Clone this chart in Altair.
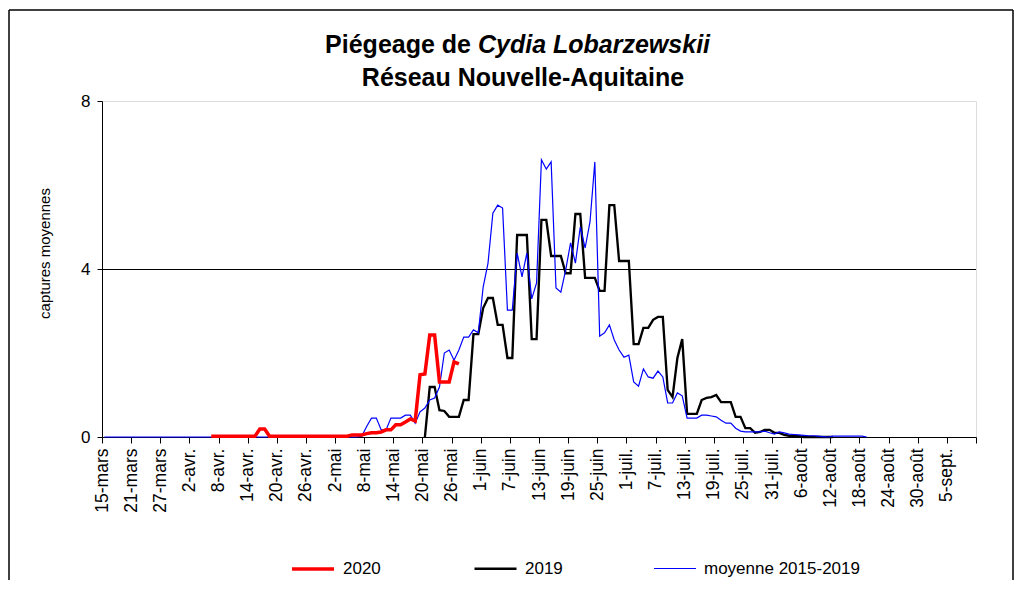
import altair as alt
import pandas as pd

# ---------------- data ----------------
SERIES = ["2020", "2019", "moyenne 2015-2019"]
COLORS = ["#ff0000", "#000000", "#0000ff"]
WIDTHS = [3.5, 1.2, 1.3]

SEASON_START = "2020-03-15"   # first day of the x axis (15-mars)
SEASON_DAYS = 180             # axis runs to 11-sept.

# 2020 : daily values from 6-avr.
Y2020_START = "2020-04-06"
Y2020 = [0.02, 0.02, 0.02, 0.02, 0.02, 0.02, 0.02, 0.02, 0.02, 0.02,
         0.19, 0.19,
         0.02, 0.02, 0.02, 0.02, 0.02, 0.02, 0.02, 0.02, 0.02, 0.02,
         0.02, 0.02, 0.02, 0.02, 0.02, 0.02, 0.02,
         0.05, 0.05, 0.05, 0.08, 0.10, 0.10, 0.12, 0.17, 0.17, 0.29,
         0.29, 0.36, 0.43, 0.38, 1.48, 1.50, 2.43, 2.43, 1.31, 1.31,
         1.31, 1.79, 1.74]

# 2019 : daily values from 20-mai
Y2019_START = "2020-05-20"
Y2019 = [0.00, 1.19, 1.19, 0.64, 0.62, 0.48, 0.48, 0.48, 0.88, 0.88,
         2.45, 2.45, 3.07, 3.31, 3.31, 2.67, 2.67, 1.88, 1.88, 4.81,
         4.81, 4.81, 2.33, 2.33, 5.17, 5.17, 4.31, 4.31, 4.31, 3.90,
         3.90, 5.31, 5.31, 3.79, 3.79, 3.79, 3.48, 3.48, 5.52, 5.52,
         4.19, 4.19, 4.19, 2.21, 2.21, 2.60, 2.60, 2.79, 2.86, 2.86,
         1.12, 0.95, 1.88, 2.33, 0.55, 0.55, 0.55, 0.88, 0.93, 0.95,
         1.00, 0.83, 0.83, 0.83, 0.48, 0.48, 0.21, 0.21, 0.10, 0.12,
         0.17, 0.17, 0.10, 0.10, 0.05, 0.03, 0.02, 0.02, 0.00, 0.00,
         0.00, 0.00, 0.00, 0.00, 0.00]

# moyenne 2015-2019 : daily values from 15-mars
MOY_START = "2020-03-15"
MOY = [0.00] * 41 + [0.03, 0.03, 0.03, 0.03] + [0.00] * 8 + [
       0.02, 0.25, 0.45, 0.45, 0.17, 0.17, 0.45, 0.45, 0.45, 0.52,
       0.52, 0.33, 0.60, 0.69, 0.88, 0.93, 1.19, 2.00, 2.07, 1.83,
       2.07, 2.38, 2.38, 2.55, 2.48, 3.57, 4.14, 5.33, 5.52, 5.45,
       3.02, 3.02, 4.38, 3.81, 4.38, 3.29, 3.67, 6.60, 6.38, 6.55,
       3.55, 3.45, 3.98, 4.62, 4.14, 5.00, 4.50, 5.12, 6.55, 2.40,
       2.48, 2.67, 2.31, 2.07, 1.90, 1.95, 1.31, 1.21, 1.62, 1.43,
       1.40, 1.57, 1.43, 0.81, 0.81, 1.05, 0.98, 0.45, 0.45, 0.45,
       0.52, 0.52, 0.50, 0.48, 0.40, 0.33, 0.33, 0.21, 0.14, 0.12,
       0.12, 0.12, 0.12, 0.14, 0.10, 0.07, 0.12, 0.10, 0.07, 0.06,
       0.05, 0.04, 0.03, 0.03, 0.02, 0.01, 0.00, 0.02, 0.02, 0.02,
       0.02, 0.02, 0.02, 0.02, 0.00]

TICK_DAYS = list(range(0, SEASON_DAYS + 1, 6))
TICK_LABELS = ["15-mars", "21-mars", "27-mars", "2-avr.", "8-avr.", "14-avr.",
               "20-avr.", "26-avr.", "2-mai", "8-mai", "14-mai", "20-mai",
               "26-mai", "1-juin", "7-juin", "13-juin", "19-juin", "25-juin",
               "1-juil.", "7-juil.", "13-juil.", "19-juil.", "25-juil.",
               "31-juil.", "6-août", "12-août", "18-août", "24-août",
               "30-août", "5-sept.", ""]
Y_TICKS = [0, 4, 8]
GRID_VALUES = [4]

TITLE_1A = "Piégeage de"
TITLE_1B = "Cydia Lobarzewskii"
TITLE_2 = "Réseau Nouvelle-Aquitaine"
Y_TITLE = "captures moyennes"

FONT = "Liberation Sans"


# ---------------- build tables ----------------
def series_frame(name, start, values):
    dates = pd.date_range(start, periods=len(values), freq="D")
    day = (dates - pd.Timestamp(SEASON_START)).days + 0.5   # centre of the day
    return pd.DataFrame({"day": day, "value": values, "series": name})


df2020 = series_frame("2020", Y2020_START, Y2020)
df2019 = series_frame("2019", Y2019_START, Y2019)
dfmoy = series_frame("moyenne 2015-2019", MOY_START, MOY)
one = pd.DataFrame({"k": [0]})
grid_df = pd.DataFrame({"value": GRID_VALUES})

label_expr = "[" + ",".join("'" + l + "'" for l in TICK_LABELS) + "][round(datum.value / 6)]"

x_enc = alt.X(
    "day:Q",
    scale=alt.Scale(domain=[0, SEASON_DAYS], nice=False, zero=False),
    axis=alt.Axis(
        values=TICK_DAYS, labelExpr=label_expr, title=None, grid=False,
        labelAngle=270, labelAlign="right", labelBaseline="middle",
        labelFontSize=17.5, labelColor="black", labelPadding=5,
        tickSize=6, tickColor="black", domainColor="black",
        labelOverlap=False, labelFlush=False,
    ),
)
y_scale = alt.Scale(domain=[0, 8], nice=False)
y_axis = alt.Axis(
    values=Y_TICKS, title=Y_TITLE, grid=False, format="d",
    labelFontSize=17, labelColor="black", labelPadding=7,
    tickSize=5, tickColor="black", domainColor="black",
    titleFontSize=15, titleFontWeight="normal", titleColor="black",
    titlePadding=28, titleY=152, titleAlign="center", labelFlush=False,
)
y_enc = alt.Y("value:Q", scale=y_scale, axis=y_axis)

legend = alt.Legend(
    title=None, orient="none", legendX=188, legendY=445, direction="horizontal",
    symbolType="stroke", symbolSize=1764, labelFontSize=17, labelColor="black",
    labelOffset=7, columnPadding=88, labelFont=FONT,
)
color_enc = alt.Color("series:N", scale=alt.Scale(domain=SERIES, range=COLORS), legend=legend)
width_enc = alt.StrokeWidth("series:N", scale=alt.Scale(domain=SERIES, range=WIDTHS), legend=legend)


def line_layer(df):
    return alt.Chart(df).mark_line(interpolate="linear").encode(
        x=x_enc, y=y_enc, color=color_enc, strokeWidth=width_enc)


grid = alt.Chart(grid_df).mark_rule(color="black", strokeWidth=1, yOffset=0.5).encode(y=y_enc)

# decorative outer frame of the original picture
frame_top = alt.Chart(one).mark_rule(color="black", strokeWidth=1.5).encode(
    x=alt.value(-93), x2=alt.value(911), y=alt.value(-91))
frame_left = alt.Chart(one).mark_rule(color="black", strokeWidth=1.5).encode(
    x=alt.value(-93), y=alt.value(-91), y2=alt.value(479))
frame_right = alt.Chart(one).mark_rule(color="black", strokeWidth=1.5).encode(
    x=alt.value(911), y=alt.value(-91), y2=alt.value(479))

t1a = alt.Chart(one).mark_text(font=FONT, fontSize=25, fontWeight="bold", align="right",
                               baseline="middle", color="black").encode(
    x=alt.value(369), y=alt.value(-56), text=alt.value(TITLE_1A))
t1b = alt.Chart(one).mark_text(font=FONT, fontSize=25, fontWeight="bold", fontStyle="italic",
                               align="left", baseline="middle", color="black").encode(
    x=alt.value(376), y=alt.value(-56), text=alt.value(TITLE_1B))
t2 = alt.Chart(one).mark_text(font=FONT, fontSize=25, fontWeight="bold", align="center",
                              baseline="middle", color="black").encode(
    x=alt.value(421), y=alt.value(-23), text=alt.value(TITLE_2))

chart = alt.layer(
    grid, line_layer(df2019), line_layer(dfmoy), line_layer(df2020),
    frame_top, frame_left, frame_right, t1a, t1b, t2,
).properties(
    width=874, height=336,
    autosize=alt.AutoSizeParams(type="none"),
    padding={"left": 94, "top": 93, "right": 40, "bottom": 143},
    background="white",
).configure_view(
    stroke="#808080", strokeWidth=1,
).configure(
    font=FONT,
)

chart.save("out.html", embed_options={"renderer": "svg", "actions": False})
